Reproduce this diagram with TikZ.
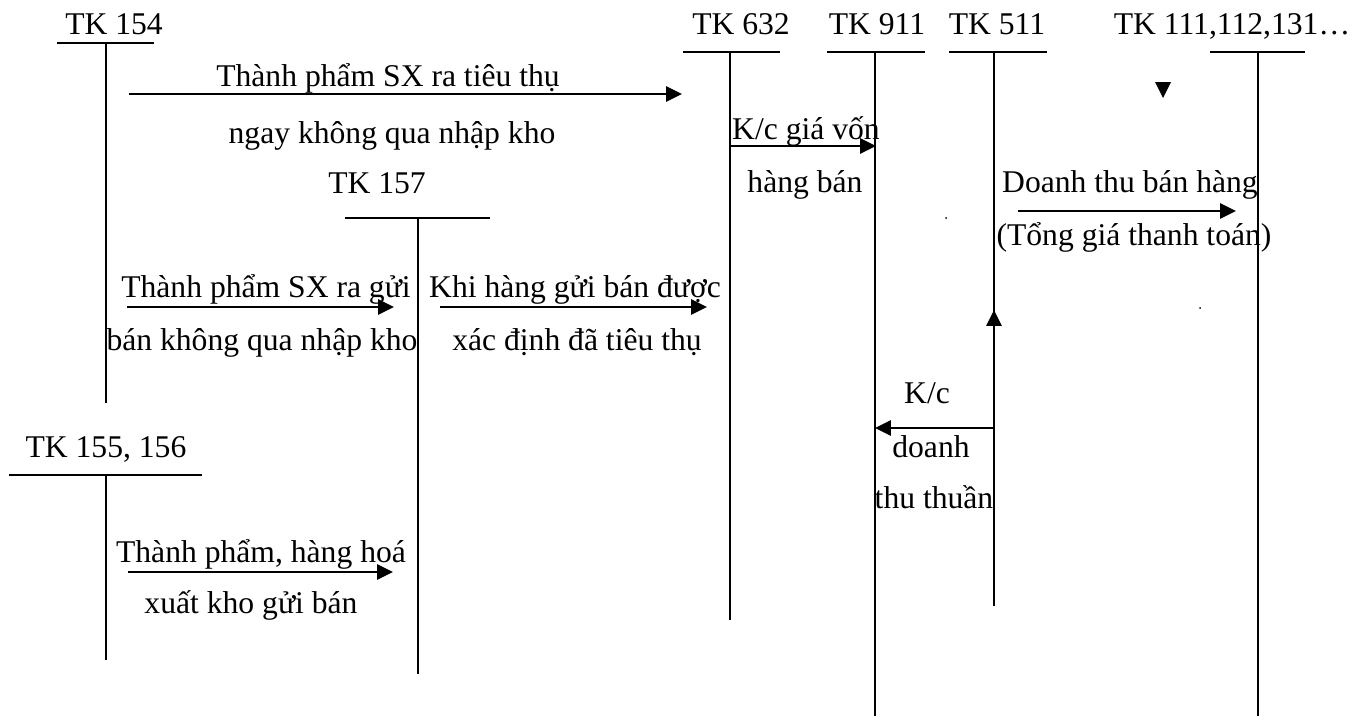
\documentclass[tikz,border=0pt]{standalone}
\usepackage{fontspec}
\setmainfont{Liberation Serif}
\usetikzlibrary{arrows.meta}
\tikzset{
  >={Triangle[length=9pt,width=8.5pt]},
  acct/.style={line width=1pt},
  flow/.style={line width=1.5pt,->},
  lbl/.style={anchor=base,inner sep=0pt,font=\fontsize{18}{21}\selectfont}
}

\begin{document}
\begin{tikzpicture}[x=0.02cm,y=-0.02cm]
    \useasboundingbox (0,0) rectangle (1367,720);
    % T accounts: title, underline and vertical line
    \node[lbl] (tk154) at (114,34) {TK 154};
    \draw[acct] (57,43) -- (154,43);
    \draw[acct] (106,43) coordinate (tk154top) -- (106,403) coordinate (tk154bot);
    \node[lbl] (tk632) at (741,34) {TK 632};
    \draw[acct] (683,52) -- (780,52);
    \draw[acct] (730,52) coordinate (tk632top) -- (730,620) coordinate (tk632bot);
    \node[lbl] (tk911) at (877,34) {TK 911};
    \draw[acct] (827,52) -- (925,52);
    \draw[acct] (875,52) coordinate (tk911top) -- (875,716) coordinate (tk911bot);
    \node[lbl] (tk511) at (997,34) {TK 511};
    \draw[acct] (949,52) -- (1047,52);
    \draw[acct] (994,52) coordinate (tk511top) -- (994,606) coordinate (tk511bot);
    \node[lbl] (tk111) at (1232,34) {TK 111,112,131…};
    \draw[acct] (1210,52) -- (1305,52);
    \draw[acct] (1258,52) coordinate (tk111top) -- (1258,716) coordinate (tk111bot);
    \node[lbl] (tk157) at (377,193) {TK 157};
    \draw[acct] (345,218) -- (490,218);
    \draw[acct] (418,218) coordinate (tk157top) -- (418,674) coordinate (tk157bot);
    \node[lbl] (tk155) at (106,457) {TK 155, 156};
    \draw[acct] (9,475) -- (202,475);
    \draw[acct] (106,475) coordinate (tk155top) -- (106,660) coordinate (tk155bot);

    % mark and dots
    \fill (1155,82) -- (1171,82) -- (1163,98) -- cycle;
    \fill (946,218) circle (1);
    \fill (1200,308) circle (1);

    % 154 -> 632
    \coordinate (a1s) at (129,94);
    \coordinate (a1e) at (682,94);
    \draw[flow] (a1s) -- (a1e);
    \node[lbl] (a1top) at (388,86) {Thành phẩm SX ra tiêu thụ};
    \node[lbl] (a1bot) at (392,143) {ngay không qua nhập kho};

    % 632 -> 911
    \coordinate (a2s) at (730,146);
    \coordinate (a2e) at (876,146);
    \draw[flow] (a2s) -- (a2e);
    \node[lbl] (a2top) at (806,139) {K/c giá vốn};
    \node[lbl] (a2bot) at (805,192) {hàng bán};

    % 511 -> 111
    \coordinate (a3s) at (1018,211);
    \coordinate (a3e) at (1236,211);
    \draw[flow] (a3s) -- (a3e);
    \node[lbl] (a3top) at (1130,192) {Doanh thu bán hàng};
    \node[lbl] (a3bot) at (1134,245) {(Tổng giá thanh toán)};

    % 154 -> 157
    \coordinate (a4s) at (127,307);
    \coordinate (a4e) at (394,307);
    \draw[flow] (a4s) -- (a4e);
    \node[lbl] (a4top) at (266,297) {Thành phẩm SX ra gửi};
    \node[lbl] (a4bot) at (262,350) {bán không qua nhập kho};

    % 157 -> 632
    \coordinate (a5s) at (440,307);
    \coordinate (a5e) at (707,307);
    \draw[flow] (a5s) -- (a5e);
    \node[lbl] (a5top) at (575,297) {Khi hàng gửi bán được};
    \node[lbl] (a5bot) at (577,350) {xác định đã tiêu thụ};

    % 511 -> 911
    \coordinate (a6s) at (994,428);
    \coordinate (a6e) at (875,428);
    \draw[flow] (a6s) -- (a6e);
    \draw[flow] (a6s) -- (994,310) coordinate (a6up);
    \node[lbl] (a6a) at (927,403) {K/c};
    \node[lbl] (a6b) at (931,457) {doanh};
    \node[lbl] (a6c) at (934,508) {thu thuần};

    % 155 -> 157
    \coordinate (a7s) at (128,572);
    \coordinate (a7e) at (393,572);
    \draw[flow] (a7s) -- (a7e);
    \node[lbl] (a7top) at (261,562) {Thành phẩm, hàng hoá};
    \node[lbl] (a7bot) at (251,613) {xuất kho gửi bán};
\end{tikzpicture}
\end{document}
